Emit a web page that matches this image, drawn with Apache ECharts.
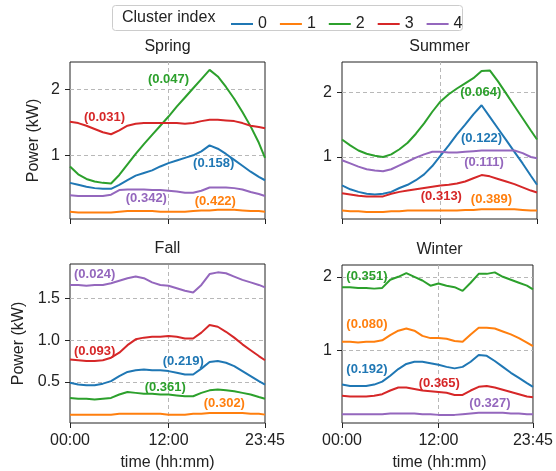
<!DOCTYPE html>
<html>
<head>
<meta charset="utf-8">
<script src="https://cdn.jsdelivr.net/npm/echarts@6/dist/echarts.min.js"></script>
<style>
html, body { margin: 0; padding: 0; background: #fff; }
#chart { width: 556px; height: 471px; }
</style>
</head>
<body>
<div id="chart"></div>
<script>
// time of day in hours (one reading per hour, plus 23:45)
var hours = [0,1,2,3,4,5,6,7,8,9,10,11,12,13,14,15,16,17,18,19,20,21,22,23,23.75];
var clusterNames = ['0','1','2','3','4'];

// Spring, cluster 0..4 (kW)
var spring0 = [0.58,0.55,0.52,0.50,0.49,0.49,0.55,0.62,0.69,0.73,0.77,0.83,0.88,0.92,0.96,1.00,1.06,1.15,1.10,1.02,0.93,0.84,0.75,0.67,0.62];
var spring1 = [0.14,0.13,0.13,0.13,0.13,0.13,0.14,0.15,0.15,0.15,0.15,0.14,0.14,0.14,0.14,0.15,0.16,0.16,0.17,0.17,0.17,0.16,0.15,0.15,0.14];
var spring2 = [0.83,0.71,0.64,0.60,0.58,0.57,0.70,0.86,1.02,1.17,1.31,1.45,1.59,1.74,1.88,2.02,2.16,2.30,2.20,2.04,1.86,1.66,1.44,1.19,0.96];
var spring3 = [1.51,1.49,1.45,1.40,1.35,1.32,1.38,1.45,1.48,1.49,1.49,1.49,1.49,1.49,1.48,1.49,1.52,1.54,1.54,1.53,1.52,1.49,1.45,1.43,1.41];
var spring4 = [0.39,0.38,0.38,0.38,0.38,0.40,0.47,0.48,0.48,0.48,0.47,0.47,0.46,0.45,0.43,0.43,0.46,0.51,0.51,0.51,0.50,0.48,0.44,0.41,0.38];

// Summer
var summer0 = [0.56,0.50,0.46,0.43,0.42,0.43,0.46,0.52,0.57,0.64,0.73,0.86,1.02,1.18,1.35,1.50,1.66,1.80,1.62,1.44,1.26,1.08,0.90,0.71,0.57];
var summer1 = [0.17,0.16,0.16,0.15,0.15,0.15,0.16,0.16,0.17,0.17,0.17,0.17,0.17,0.17,0.17,0.18,0.18,0.19,0.19,0.19,0.19,0.19,0.18,0.17,0.17];
var summer2 = [1.27,1.18,1.10,1.05,1.02,1.00,1.04,1.12,1.22,1.36,1.52,1.70,1.86,1.97,2.06,2.14,2.22,2.33,2.34,2.17,1.98,1.79,1.60,1.41,1.27];
var summer3 = [0.44,0.42,0.40,0.39,0.39,0.39,0.43,0.46,0.48,0.50,0.52,0.54,0.56,0.57,0.59,0.62,0.67,0.72,0.70,0.66,0.62,0.58,0.53,0.48,0.45];
var summer4 = [0.95,0.90,0.85,0.81,0.79,0.78,0.81,0.87,0.93,0.99,1.04,1.08,1.08,1.07,1.07,1.08,1.09,1.10,1.10,1.10,1.10,1.10,1.06,1.00,0.98];

// Fall
var fall0 = [0.49,0.47,0.46,0.46,0.48,0.51,0.57,0.62,0.64,0.65,0.64,0.64,0.63,0.61,0.59,0.59,0.66,0.74,0.75,0.73,0.69,0.63,0.57,0.51,0.47];
var fall1 = [0.11,0.11,0.11,0.11,0.11,0.11,0.12,0.12,0.12,0.12,0.12,0.12,0.11,0.11,0.11,0.12,0.12,0.13,0.13,0.13,0.13,0.13,0.12,0.12,0.11];
var fall2 = [0.31,0.30,0.30,0.29,0.30,0.31,0.35,0.38,0.37,0.36,0.36,0.35,0.35,0.34,0.33,0.33,0.37,0.40,0.41,0.40,0.39,0.37,0.35,0.32,0.30];
var fall3 = [0.77,0.76,0.75,0.75,0.76,0.79,0.85,0.94,1.01,1.03,1.04,1.04,1.05,1.04,1.02,1.02,1.09,1.18,1.16,1.10,1.03,0.95,0.88,0.81,0.76];
var fall4 = [1.66,1.66,1.65,1.66,1.66,1.68,1.71,1.74,1.76,1.74,1.69,1.66,1.65,1.62,1.59,1.57,1.66,1.79,1.81,1.80,1.76,1.72,1.69,1.66,1.63];

// Winter
var winter0 = [0.54,0.52,0.52,0.52,0.54,0.58,0.66,0.75,0.82,0.85,0.85,0.83,0.81,0.78,0.76,0.78,0.85,0.94,0.93,0.86,0.78,0.70,0.63,0.56,0.51];
var winter1 = [1.12,1.12,1.11,1.12,1.12,1.14,1.21,1.27,1.30,1.27,1.20,1.17,1.17,1.16,1.13,1.12,1.22,1.31,1.31,1.30,1.26,1.22,1.17,1.11,1.06];
var winter2 = [1.86,1.86,1.85,1.85,1.84,1.85,1.96,2.00,2.05,2.00,1.95,1.88,1.91,1.88,1.86,1.81,1.92,2.04,2.04,2.06,2.00,1.96,1.92,1.88,1.83];
var winter3 = [0.39,0.38,0.38,0.38,0.39,0.41,0.46,0.50,0.50,0.48,0.46,0.45,0.44,0.43,0.40,0.40,0.46,0.51,0.52,0.50,0.47,0.44,0.41,0.38,0.37];
var winter4 = [0.14,0.14,0.14,0.14,0.14,0.14,0.15,0.15,0.15,0.15,0.14,0.14,0.13,0.13,0.13,0.14,0.15,0.16,0.16,0.16,0.16,0.15,0.15,0.14,0.14];

// share labels per cluster: [hour, kW, text]
var springNotes = [[17.5,0.87,'(0.158)'],[17.7,0.29,'(0.422)'],[12.0,2.15,'(0.047)'],[4.2,1.57,'(0.031)'],[9.3,0.35,'(0.342)']];
var summerNotes = [[17.0,1.29,'(0.122)'],[18.2,0.34,'(0.389)'],[16.9,2.00,'(0.064)'],[12.1,0.39,'(0.313)'],[17.3,0.91,'(0.111)']];
var fallNotes   = [[13.8,0.75,'(0.219)'],[18.8,0.24,'(0.302)'],[11.6,0.44,'(0.361)'],[3.0,0.87,'(0.093)'],[3.0,1.79,'(0.024)']];
var winterNotes = [[3.1,0.75,'(0.192)'],[3.1,1.35,'(0.080)'],[3.1,2.00,'(0.351)'],[12.1,0.55,'(0.365)'],[18.4,0.28,'(0.327)']];

// tick labels
var xTicks = [0, 12, 23.75];
var springTicks = [1, 2];
var summerTicks = [1, 2];
var fallTicks = [0.5, 1.0, 1.5];
var winterTicks = [1, 2];

var FONT = 'Liberation Sans';
var INK = '#222';
var colors = ['#1f77b4','#ff7f0e','#2ca02c','#d62728','#9467bd'];

var panels = [
	{title:'Spring', box:{left:70, top:62, width:195, height:157}, ymin:0.03, ymax:2.42, yticks:springTicks, dec:0, lines:[spring0,spring1,spring2,spring3,spring4], notes:springNotes, bottomRow:false, leftCol:true},
	{title:'Summer', box:{left:342, top:62, width:195, height:157}, ymin:0.04, ymax:2.47, yticks:summerTicks, dec:0, lines:[summer0,summer1,summer2,summer3,summer4], notes:summerNotes, bottomRow:false, leftCol:false},
	{title:'Fall', box:{left:70, top:264, width:195, height:159}, ymin:0.01, ymax:1.91, yticks:fallTicks, dec:1, lines:[fall0,fall1,fall2,fall3,fall4], notes:fallNotes, bottomRow:true, leftCol:true},
	{title:'Winter', box:{left:342, top:265, width:195, height:158}, ymin:0.02, ymax:2.16, yticks:winterTicks, dec:0, lines:[winter0,winter1,winter2,winter3,winter4], notes:winterNotes, bottomRow:true, leftCol:false}
];

function hhmm(v){
	var h = Math.floor(v), m = Math.round((v - h) * 60);
	return (h < 10 ? '0' : '') + h + ':' + (m < 10 ? '0' : '') + m;
}

var grids = [], xAxes = [], yAxes = [], series = [], graphics = [];

panels.forEach(function(p, i){
	grids.push({left:p.box.left, top:p.box.top, width:p.box.width, height:p.box.height, show:true, borderColor:INK, borderWidth:1, backgroundColor:'#fff'});
	xAxes.push({
		type:'value', gridIndex:i, min:0, max:23.75,
		axisLine:{show:false},
		axisTick:{show:true, length:5, lineStyle:{color:INK}, customValues:xTicks},
		axisLabel:{show:p.bottomRow, customValues:xTicks, formatter:hhmm, margin:10, fontFamily:FONT, fontSize:16, color:INK},
		splitLine:{show:false}
	});
	yAxes.push({
		type:'value', gridIndex:i, min:p.ymin, max:p.ymax,
		axisLine:{show:false},
		axisTick:{show:true, length:5, lineStyle:{color:INK}, customValues:p.yticks},
		axisLabel:{customValues:p.yticks, formatter:function(v){ return v.toFixed(p.dec); }, margin:10, fontFamily:FONT, fontSize:16, color:INK},
		splitLine:{show:false}
	});
	var gridLines = p.yticks.map(function(t){ return {yAxis:t}; }).concat([{xAxis:12}]);
	p.lines.forEach(function(vals, k){
		var s = {
			name:clusterNames[k], type:'line', xAxisIndex:i, yAxisIndex:i,
			data:hours.map(function(h, j){ return [h, vals[j]]; }),
			symbol:'none', smooth:false, z:2 + k,
			lineStyle:{color:colors[k], width:2}, itemStyle:{color:colors[k]},
			markPoint:{
				symbol:'circle', symbolSize:0, z:20,
				label:{show:true, position:'inside', formatter:'{c}', color:colors[k], fontFamily:FONT, fontSize:13, fontWeight:'bold'},
				data:[{coord:[p.notes[k][0], p.notes[k][1]], value:p.notes[k][2]}]
			}
		};
		if (k === 0) {
			s.markLine = {
				silent:true, symbol:'none', z:1,
				label:{show:false},
				lineStyle:{color:'#b8b8b8', type:[4,3], width:1},
				data:gridLines
			};
		}
		series.push(s);
	});
	graphics.push({type:'text', x:p.box.left + p.box.width / 2, y:p.box.top - 15,
		style:{text:p.title, fontFamily:FONT, fontSize:16, fill:INK, textAlign:'center', textVerticalAlign:'middle'}});
	if (p.leftCol) {
		graphics.push({type:'text', x:p.dec ? 19 : 34, y:p.box.top + p.box.height / 2, rotation:Math.PI / 2,
			style:{text:'Power (kW)', fontFamily:FONT, fontSize:16, fill:INK, textAlign:'center', textVerticalAlign:'middle'}});
	}
	if (p.bottomRow) {
		graphics.push({type:'text', x:p.box.left + p.box.width / 2, y:463,
			style:{text:'time (hh:mm)', fontFamily:FONT, fontSize:16, fill:INK, textAlign:'center', textVerticalAlign:'middle'}});
	}
});

// legend frame and title
graphics.push({type:'rect', shape:{x:112.5, y:5.5, width:350, height:25, r:3}, style:{fill:'#fff', stroke:'#cccccc', lineWidth:1}, z:-1});
graphics.push({type:'text', x:122, y:18, style:{text:'Cluster index', fontFamily:FONT, fontSize:16, fill:INK, textVerticalAlign:'middle'}});

var option = {
	animation:false,
	backgroundColor:'#fff',
	grid:grids,
	xAxis:xAxes,
	yAxis:yAxes,
	legend:{
		data:clusterNames, left:226, top:11, icon:'rect', itemWidth:22, itemHeight:2, itemGap:13,
		selectedMode:false,
		textStyle:{fontFamily:FONT, fontSize:16, color:INK, lineHeight:14}
	},
	graphic:graphics,
	series:series
};

var chart = echarts.init(document.getElementById('chart'), null, {renderer:'canvas'});
chart.setOption(option);
</script>
</body>
</html>
